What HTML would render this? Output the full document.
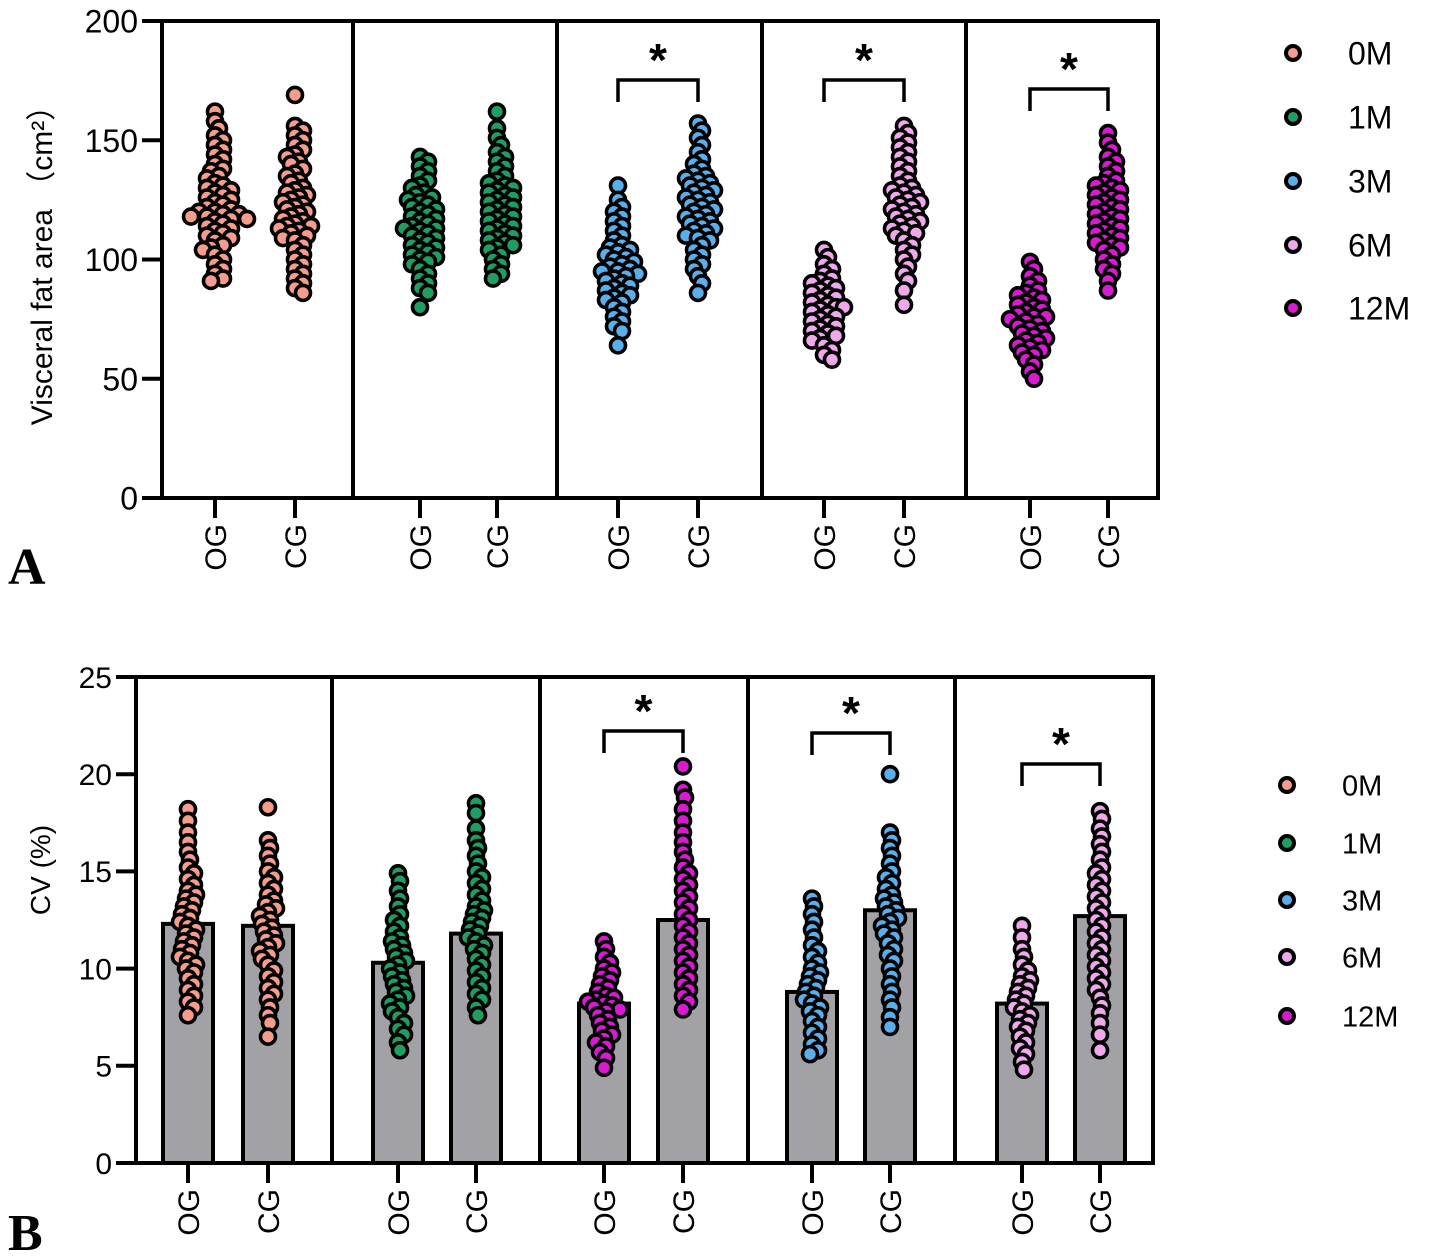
<!DOCTYPE html>
<html><head><meta charset="utf-8">
<style>
html,body{margin:0;padding:0;background:#fff;}
svg{display:block;}
text{font-family:"Liberation Sans","Noto Sans CJK SC",sans-serif;fill:#000;}
</style></head>
<body>
<svg id="fig" width="1429" height="1257" viewBox="0 0 1429 1257"></svg>
<script>
// ---------- data ----------
const months = ["0M","1M","3M","6M","12M"];
const groups = ["OG","CG"];
const colorsHex = ["#f59c8c","#1e9e62","#5aaeea","#f0a8ec","#d81ad0"];
const vfaOG0=[162,158,155,152,150,148,146,144,142,140,138,137,135,134,132,131,130,129,128,127,126,125,124,123,122,121,120,120,119,119,118,118,117,117,116,115,114,113,112,111,110,109,108,106,105,104,102,100,98,96,94,92,91];
const vfaCG0=[169,156,154,152,150,148,146,144,143,141,140,138,136,135,133,132,130,129,128,127,126,125,124,123,122,121,120,119,118,117,116,115,114,114,113,112,111,110,109,108,106,104,102,100,98,96,94,92,90,88,86];
const vfaOG1=[143,141,139,137,135,133,131,130,128,127,126,125,124,123,122,121,120,119,118,117,116,115,114,113,113,112,111,110,109,108,107,106,105,104,103,102,101,100,99,98,96,94,92,90,88,86,80];
const vfaCG1=[162,155,151,148,145,143,141,139,137,135,133,132,131,130,129,128,127,126,125,124,123,122,121,120,119,118,117,116,115,114,113,112,111,110,109,108,107,106,105,104,102,100,98,96,94,92];
const vfaOG3=[131,125,122,120,118,116,114,112,110,108,106,105,104,103,102,101,100,99,98,97,96,95,95,94,93,92,91,90,89,88,87,86,85,84,83,82,80,78,76,74,72,70,64];
const vfaCG3=[157,154,151,148,145,142,140,138,136,135,134,133,132,131,130,129,128,127,126,125,124,123,122,121,120,119,118,117,116,115,114,113,112,111,110,109,108,106,104,102,100,98,96,93,90,86];
const vfaOG6=[104,101,98,96,94,92,91,90,89,88,87,86,85,84,83,82,81,80,80,79,78,77,76,75,74,73,72,71,70,69,68,67,66,64,62,60,58];
const vfaCG6=[156,153,151,149,147,145,143,141,139,137,135,133,131,130,129,128,127,126,125,124,123,122,121,120,119,118,117,116,115,114,113,112,111,110,108,106,104,102,100,97,94,91,87,81];
const vfaOG12=[99,96,93,91,89,87,86,85,84,83,82,81,80,79,78,77,76,76,75,74,73,72,71,70,69,68,67,66,65,64,63,62,61,60,58,56,53,50];
const vfaCG12=[153,149,146,143,141,139,137,135,133,132,131,130,129,128,127,126,125,124,123,122,121,120,119,118,117,116,115,114,113,112,111,110,109,108,107,106,105,104,102,100,98,96,94,91,87];

const cvOG0=[18.2,17.6,17.0,16.5,16.0,15.6,15.2,14.9,14.6,14.3,14.0,13.8,13.6,13.4,13.2,13.0,12.8,12.6,12.4,12.2,12.0,11.8,11.6,11.4,11.2,11.0,10.8,10.6,10.4,10.2,10.0,9.8,9.5,9.2,8.9,8.6,8.3,8.0,7.6];
const cvCG0=[18.3,16.6,16.2,15.8,15.4,15.0,14.7,14.4,14.1,13.8,13.5,13.3,13.1,12.9,12.7,12.5,12.3,12.1,11.9,11.7,11.5,11.3,11.1,10.9,10.7,10.5,10.2,9.9,9.6,9.3,9.0,8.7,8.4,8.0,7.6,7.2,6.5];
const cvOG1=[14.9,14.5,14.0,13.6,13.2,12.8,12.5,12.2,11.9,11.6,11.4,11.2,11.0,10.8,10.6,10.4,10.2,10.0,9.8,9.6,9.4,9.2,9.0,8.8,8.6,8.4,8.2,8.0,7.8,7.5,7.2,6.9,6.6,6.2,5.8];
const cvCG1=[18.5,18.0,17.2,16.6,16.2,15.8,15.4,15.0,14.7,14.4,14.1,13.8,13.5,13.2,13.0,12.8,12.6,12.4,12.2,12.0,11.8,11.6,11.4,11.2,11.0,10.8,10.5,10.2,9.9,9.6,9.3,9.0,8.7,8.4,8.0,7.6];
const cvOG2=[11.4,11.0,10.6,10.3,10.0,9.8,9.6,9.4,9.2,9.0,8.8,8.6,8.5,8.4,8.3,8.2,8.1,8.0,7.9,7.8,7.6,7.4,7.2,7.0,6.8,6.6,6.4,6.2,6.0,5.7,5.4,4.9];
const cvCG2=[20.4,19.2,18.8,18.2,17.6,17.0,16.5,16.0,15.6,15.2,14.9,14.6,14.3,14.0,13.7,13.4,13.1,12.8,12.5,12.2,11.9,11.6,11.3,11.0,10.7,10.4,10.1,9.8,9.5,9.2,8.9,8.6,8.3,7.9];
const cvOG3=[13.6,13.2,12.8,12.4,12.0,11.6,11.2,10.9,10.6,10.3,10.0,9.8,9.6,9.4,9.2,9.0,8.8,8.6,8.4,8.2,8.0,7.8,7.6,7.3,7.0,6.7,6.4,6.1,5.8,5.6];
const cvCG3=[20.0,17.0,16.6,16.2,15.8,15.4,15.0,14.7,14.4,14.1,13.8,13.6,13.4,13.2,13.0,12.8,12.6,12.4,12.2,12.0,11.8,11.6,11.3,11.0,10.7,10.4,10.0,9.6,9.2,8.8,8.4,8.0,7.5,7.0];
const cvOG4=[12.2,11.6,11.0,10.6,10.2,9.9,9.6,9.4,9.2,9.0,8.8,8.6,8.4,8.2,8.0,7.8,7.6,7.4,7.2,7.0,6.8,6.5,6.2,5.9,5.6,5.2,4.8];
const cvCG4=[18.1,17.7,17.2,16.8,16.4,16.0,15.6,15.2,14.9,14.6,14.3,14.0,13.7,13.4,13.1,12.8,12.5,12.2,11.9,11.6,11.3,11.0,10.7,10.4,10.1,9.8,9.5,9.2,8.9,8.5,8.1,7.7,7.2,6.6,5.8];
const cvBarMeans=[12.3,12.2,10.3,11.8,8.2,12.5,8.8,13.0,8.2,12.7];

const ticksA=[0,50,100,150,200];
const ticksB=[0,5,10,15,20,25];
const sigA=[false,false,true,true,true];
const sigB=[false,false,true,true,true];
const colorIdxB=[0,1,4,2,3];

// ---------- drawing ----------
const NS="http://www.w3.org/2000/svg";
const svg=document.getElementById('fig');
function mk(tag,attrs,parent){const e=document.createElementNS(NS,tag);for(const k in attrs)e.setAttribute(k,attrs[k]);(parent||svg).appendChild(e);return e;}

function beeswarm(vals,cx,yFn,minD){
  const placed=[];const out=[];
  for(const v of vals){
    const py=yFn(v);
    let best=0;
    for(let k=0;k<60;k++){
      const cands=k===0?[0]:[k*2,-k*2];
      let ok=null;
      for(const dx of cands){
        let good=true;
        for(const q of placed){const ddx=dx-q.dx,ddy=py-q.y;if(ddx*ddx+ddy*ddy<minD*minD){good=false;break;}}
        if(good){ok=dx;break;}
      }
      if(ok!==null){best=ok;break;}
    }
    placed.push({dx:best,y:py});out.push({x:cx+best,y:py});
  }
  return out;
}

function panel(cfg){
  const g=mk('g',{});
  const y=v=>cfg.y0-(v-cfg.vmin)/(cfg.vmax-cfg.vmin)*(cfg.y0-cfg.y1);
  if(cfg.bars){
    cfg.bars.forEach((m,i)=>{
      const cx=cfg.cols[i];
      const b=mk('rect',{x:cx-25,y:y(m),width:50,height:cfg.y0-y(m),fill:'#a2a2a6',stroke:'#000','stroke-width':4},g);
      
      
    });
  }
  cfg.series.forEach((vals,i)=>{
    const ci=cfg.colorIdx[Math.floor(i/2)];
    const sg=mk('g',{},g);
    
    
    beeswarm(vals,cfg.cols[i],y,8).forEach(p=>{
      mk('circle',{cx:p.x,cy:p.y,r:7.5,fill:colorsHex[ci],stroke:'#000','stroke-width':3.6},sg);
    });
  });
  const fr=mk('g',{},g);
  
  const L=cfg.x0,R=cfg.x1;
  mk('path',{d:`M${L},${cfg.y1}H${R}V${cfg.y0}H${L}Z`,fill:'none',stroke:'#000','stroke-width':4},fr);
  cfg.dividers.forEach(d=>mk('line',{x1:d,y1:cfg.y1,x2:d,y2:cfg.y0,stroke:'#000','stroke-width':4},fr));
  cfg.ticks.forEach(t=>{
    mk('line',{x1:L-20,y1:y(t),x2:L,y2:y(t),stroke:'#000','stroke-width':4},g);
    const tx=mk('text',{x:L-24,y:y(t)+cfg.fs*0.36,'text-anchor':'end','font-size':cfg.fs},g);
    tx.textContent=t;
    
    
  });
  cfg.cols.forEach((cx,i)=>{
    mk('line',{x1:cx,y1:cfg.y0,x2:cx,y2:cfg.y0+20,stroke:'#000','stroke-width':4},g);
    const tx=mk('text',{x:0,y:0,'text-anchor':'end','font-size':30,transform:`translate(${cx+11},${cfg.y0+26}) rotate(-90)`},g);
    tx.textContent=groups[i%2];
    
    
  });
  cfg.sig.forEach((s,k)=>{
    if(!s)return;
    const a=cfg.cols[k*2],b=cfg.cols[k*2+1],top=cfg.brTop[k];
    const bg=mk('g',{},g);
    
    
    mk('path',{d:`M${a},${top+22}V${top}H${b}V${top+22}`,fill:'none',stroke:'#000','stroke-width':3.5},bg);
    const st=mk('text',{x:(a+b)/2,y:top-4,'text-anchor':'middle','font-size':46,'font-weight':'bold'},bg);
    st.textContent='*';
  });
  const yt=mk('text',{x:0,y:0,'text-anchor':'middle','font-size':cfg.titleFs,transform:`translate(${cfg.titleX},${cfg.titleY}) rotate(-90)`},g);
  yt.textContent=cfg.title;
  
  
  const lg=mk('g',{},g);
  
  months.forEach((m,i)=>{
    const ly=cfg.legY[i];
    mk('circle',{cx:cfg.legX,cy:ly,r:7,fill:colorsHex[i],stroke:'#000','stroke-width':4},lg);
    const t=mk('text',{x:cfg.legX+55,y:ly+cfg.legFs*0.36,'font-size':cfg.legFs},lg);
    t.textContent=m;
    
    
  });
  const pl=mk('text',{x:8,y:cfg.letterY,'font-size':52,'font-weight':'bold',style:'font-family:"Liberation Serif",serif'},g);
  pl.textContent=cfg.letter;
  
  
}

panel({name:'panel-a-visceral-fat',x0:162,x1:1158,y0:498,y1:21,vmin:0,vmax:200,
  dividers:[353,557,762,966],cols:[215,295,420,497,618,698,824,904,1030,1108],
  series:[vfaOG0,vfaCG0,vfaOG1,vfaCG1,vfaOG3,vfaCG3,vfaOG6,vfaCG6,vfaOG12,vfaCG12],
  colorIdx:[0,1,2,3,4],ticks:ticksA,fs:32,sig:sigA,brTop:[0,0,80,80,89],
  title:'Visceral fat area （cm²）',titleFs:30,titleX:52,titleY:258,
  legX:1293,legY:[53,117,181,245,308],legFs:32,letter:'A',letterY:584});

panel({name:'panel-b-cv',x0:136,x1:1153,y0:1163,y1:677,vmin:0,vmax:25,
  dividers:[332,540,748,955],cols:[188,268,398,476,604,683,812,890,1022,1100],
  series:[cvOG0,cvCG0,cvOG1,cvCG1,cvOG2,cvCG2,cvOG3,cvCG3,cvOG4,cvCG4],bars:cvBarMeans,
  colorIdx:colorIdxB,ticks:ticksB,fs:30,sig:sigB,brTop:[0,0,731,733,764],
  title:'CV (%)',titleFs:28,titleX:50,titleY:870,
  legX:1287,legY:[785,843,900,957,1016],legFs:29,letter:'B',letterY:1250});
</script>
</body></html>
